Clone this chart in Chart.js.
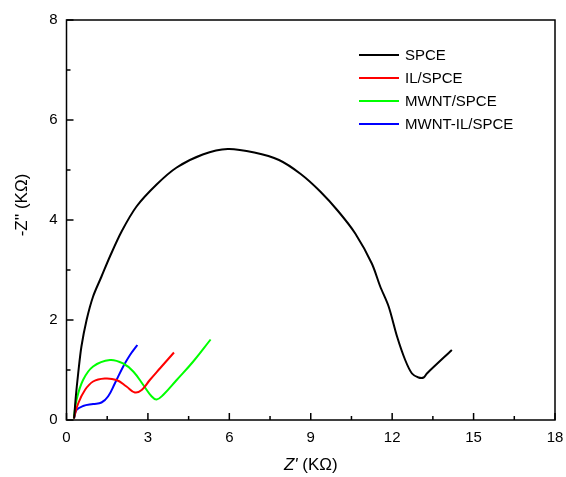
<!DOCTYPE html>
<html lang="en">
<head>
  <meta charset="UTF-8">
  <title>Nyquist</title>
  <script src="https://cdn.jsdelivr.net/npm/chart.js"></script>
  <style>
    body { margin: 0; background: #ffffff; }
    canvas { display: block; }
  </style>
</head>
<body>
  <canvas id="grafico" width="566" height="477"></canvas>

  <script>
    const labels = ["SPCE", "IL/SPCE", "MWNT/SPCE", "MWNT-IL/SPCE"];
    const colors = ["#000000", "#ff0000", "#00ff00", "#0000ff"];

    const spceX = [0.28, 0.34, 0.43, 0.55, 0.74, 0.98, 1.29, 1.6, 2.03, 2.58, 3.32, 4.06, 5.02, 5.94, 6.92, 7.83, 8.63, 9.35, 10.02, 10.64, 11.25, 11.56, 11.87, 12.18, 12.48, 12.73, 12.97, 13.16, 13.28, 14.2];
    const spceY = [0.03, 0.45, 0.93, 1.47, 2.0, 2.47, 2.87, 3.27, 3.77, 4.27, 4.71, 5.05, 5.31, 5.42, 5.35, 5.2, 4.92, 4.57, 4.17, 3.73, 3.13, 2.67, 2.27, 1.67, 1.2, 0.93, 0.85, 0.85, 0.93, 1.4];

    const ilX = [0.27, 0.43, 0.68, 0.98, 1.41, 1.84, 2.21, 2.52, 2.77, 3.07, 3.44, 3.96];
    const ilY = [0.03, 0.33, 0.6, 0.77, 0.83, 0.8, 0.67, 0.55, 0.6, 0.8, 1.03, 1.35];

    const mwntX = [0.27, 0.37, 0.61, 0.98, 1.6, 2.09, 2.46, 2.83, 3.14, 3.32, 3.56, 4.06, 4.67, 5.31];
    const mwntY = [0.03, 0.4, 0.8, 1.07, 1.2, 1.13, 0.97, 0.7, 0.47, 0.41, 0.5, 0.8, 1.17, 1.61];

    const mwntIlX = [0.27, 0.37, 0.61, 0.98, 1.29, 1.53, 1.78, 2.09, 2.34, 2.61];
    const mwntIlY = [0.03, 0.2, 0.28, 0.32, 0.35, 0.47, 0.73, 1.07, 1.3, 1.5];

    const xTicks = [0, 3, 6, 9, 12, 15, 18];
    const yTicks = [0, 2, 4, 6, 8];

    function pares(xs, ys) {
      return xs.map((x, i) => ({ x: x, y: ys[i] }));
    }

    const series = [pares(spceX, spceY), pares(ilX, ilY), pares(mwntX, mwntY), pares(mwntIlX, mwntIlY)];
    const tensions = [0.3, 0.4, 0.4, 0.4];

    const moldura = {
      id: 'moldura',
      afterDraw(chart) {
        const ctx = chart.ctx;
        const a = chart.chartArea;
        const sx = chart.scales.x, sy = chart.scales.y;
        ctx.save();
        ctx.strokeStyle = '#000';
        ctx.lineWidth = 1.5;
        ctx.strokeRect(a.left, a.top, a.right - a.left, a.bottom - a.top);

        // ticks para dentro
        ctx.beginPath();
        for (let v = 0; v <= 18; v += 1.5) {
          const px = sx.getPixelForValue(v);
          const len = (v % 3 === 0) ? 7 : 4;
          ctx.moveTo(px, a.bottom);
          ctx.lineTo(px, a.bottom - len);
        }
        for (let v = 0; v <= 8; v += 1) {
          const py = sy.getPixelForValue(v);
          const len = (v % 2 === 0) ? 7 : 4;
          ctx.moveTo(a.left, py);
          ctx.lineTo(a.left + len, py);
        }
        ctx.stroke();

        // titulos dos eixos
        ctx.fillStyle = '#000';
        ctx.textBaseline = 'middle';
        const cx = (a.left + a.right) / 2;
        ctx.font = 'italic 17px Arial';
        const w1 = ctx.measureText("Z'").width;
        ctx.font = '17px Arial';
        const w2 = ctx.measureText(" (KΩ)").width;
        let x0 = cx - (w1 + w2) / 2;
        ctx.textAlign = 'left';
        ctx.font = 'italic 17px Arial';
        ctx.fillText("Z'", x0, 465);
        ctx.font = '17px Arial';
        ctx.fillText(" (KΩ)", x0 + w1, 465);

        ctx.save();
        ctx.translate(22, 205);
        ctx.rotate(-Math.PI / 2);
        ctx.font = '17px Arial';
        ctx.textAlign = 'center';
        ctx.fillText("-Z'' (KΩ)", 0, 0);
        ctx.restore();

        // legenda
        ctx.font = '15px Arial';
        ctx.textAlign = 'left';
        labels.forEach((lab, i) => {
          const y = 55 + i * 23;
          ctx.strokeStyle = colors[i];
          ctx.lineWidth = 2;
          ctx.beginPath();
          ctx.moveTo(359, y);
          ctx.lineTo(399, y);
          ctx.stroke();
          ctx.fillText(lab, 405, y + 1);
        });
        ctx.restore();
      }
    };

    new Chart(document.getElementById('grafico'), {
      type: 'scatter',
      data: {
        datasets: series.map((d, i) => ({
          label: labels[i],
          data: d,
          showLine: true,
          borderColor: colors[i],
          borderWidth: 2,
          pointRadius: 0,
          tension: tensions[i],
          fill: false
        }))
      },
      options: {
        responsive: false,
        animation: false,
        layout: { padding: { top: 20, right: 11, left: 0, bottom: 0 } },
        plugins: { legend: { display: false }, tooltip: { enabled: false } },
        scales: {
          x: {
            type: 'linear',
            min: 0, max: 18,
            afterFit: s => { s.height = 57; s.paddingLeft = 0; s.paddingRight = 0; },
            afterBuildTicks: s => { s.ticks = xTicks.map(v => ({ value: v })); },
            grid: { display: false, drawTicks: false },
            border: { display: false },
            ticks: { color: '#000', font: { family: 'Arial', size: 15 }, padding: 9, maxRotation: 0 }
          },
          y: {
            type: 'linear',
            min: 0, max: 8,
            afterFit: s => { s.width = 66.5; s.paddingTop = 0; s.paddingBottom = 0; },
            afterBuildTicks: s => { s.ticks = yTicks.map(v => ({ value: v })); },
            grid: { display: false, drawTicks: false },
            border: { display: false },
            ticks: { color: '#000', font: { family: 'Arial', size: 15 }, padding: 9 }
          }
        }
      },
      plugins: [moldura]
    });
  </script>
</body>
</html>
